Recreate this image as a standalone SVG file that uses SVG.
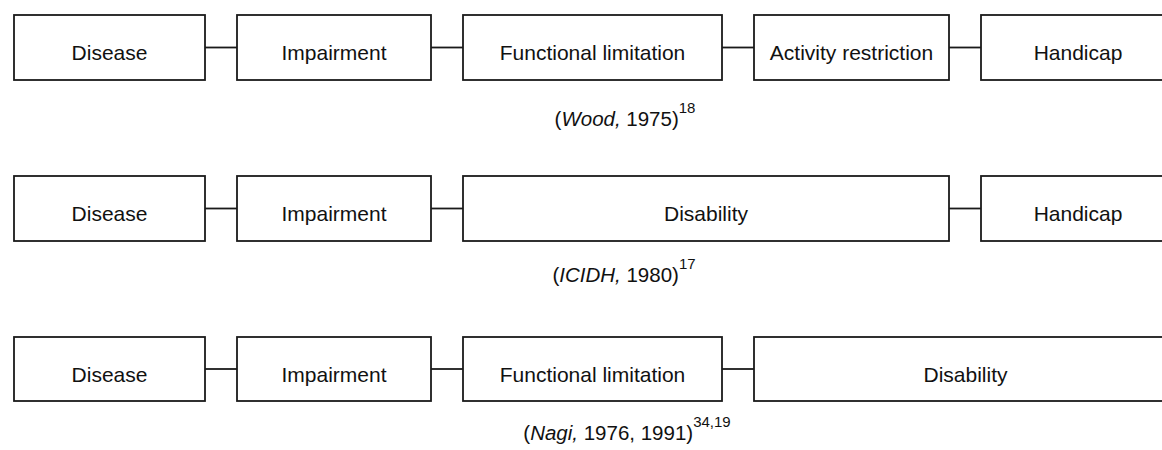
<svg xmlns="http://www.w3.org/2000/svg" width="1162" height="450" viewBox="0 0 1162 450">
<style>
.box{fill:#fff;stroke:#1a1a1a;stroke-width:1.8}
.lbl{font-family:"Liberation Sans",Arial,sans-serif;font-size:21px;fill:#111;text-anchor:middle}
.cap{font-family:"Liberation Sans",Arial,sans-serif;font-size:20.5px;fill:#111;text-anchor:middle}
.sup{font-size:15px}
.conn line{stroke:#1a1a1a;stroke-width:1.8}
</style>
<rect width="1162" height="450" fill="#fff"/>
<g class="conn" id="connectors">
<line x1="205" y1="47.5" x2="237" y2="47.5"/>
<line x1="431" y1="47.5" x2="463" y2="47.5"/>
<line x1="722" y1="47.5" x2="754" y2="47.5"/>
<line x1="949" y1="47.5" x2="981" y2="47.5"/>
<line x1="205" y1="208.5" x2="237" y2="208.5"/>
<line x1="431" y1="208.5" x2="463" y2="208.5"/>
<line x1="949" y1="208.5" x2="981" y2="208.5"/>
<line x1="205" y1="369" x2="237" y2="369"/>
<line x1="431" y1="369" x2="463" y2="369"/>
<line x1="722" y1="369" x2="754" y2="369"/>
</g>
<g id="r1-disease"><rect class="box" x="14" y="15" width="191" height="65"/><text class="lbl" x="109.5" y="60">Disease</text></g>
<g id="r1-impairment"><rect class="box" x="237" y="15" width="194" height="65"/><text class="lbl" x="334" y="60">Impairment</text></g>
<g id="r1-functional"><rect class="box" x="463" y="15" width="259" height="65"/><text class="lbl" x="592.5" y="60">Functional limitation</text></g>
<g id="r1-activity"><rect class="box" x="754" y="15" width="195" height="65"/><text class="lbl" x="851.5" y="60">Activity restriction</text></g>
<g id="r1-handicap"><rect class="box" x="981" y="15" width="195" height="65"/><text class="lbl" x="1078" y="60">Handicap</text></g>
<g id="r1-caption"><text class="cap" x="625" y="126">(<tspan font-style="italic">Wood,</tspan> 1975)<tspan class="sup" dy="-13">18</tspan></text></g>

<g id="r2-disease"><rect class="box" x="14" y="176" width="191" height="65"/><text class="lbl" x="109.5" y="221">Disease</text></g>
<g id="r2-impairment"><rect class="box" x="237" y="176" width="194" height="65"/><text class="lbl" x="334" y="221">Impairment</text></g>
<g id="r2-disability"><rect class="box" x="463" y="176" width="486" height="65"/><text class="lbl" x="706" y="221">Disability</text></g>
<g id="r2-handicap"><rect class="box" x="981" y="176" width="195" height="65"/><text class="lbl" x="1078" y="221">Handicap</text></g>
<g id="r2-caption"><text class="cap" x="624" y="282">(<tspan font-style="italic">ICIDH,</tspan> 1980)<tspan class="sup" dy="-13">17</tspan></text></g>

<g id="r3-disease"><rect class="box" x="14" y="337" width="191" height="64"/><text class="lbl" x="109.5" y="381.5">Disease</text></g>
<g id="r3-impairment"><rect class="box" x="237" y="337" width="194" height="64"/><text class="lbl" x="334" y="381.5">Impairment</text></g>
<g id="r3-functional"><rect class="box" x="463" y="337" width="259" height="64"/><text class="lbl" x="592.5" y="381.5">Functional limitation</text></g>
<g id="r3-disability"><rect class="box" x="754" y="337" width="423" height="64"/><text class="lbl" x="965.5" y="381.5">Disability</text></g>
<g id="r3-caption"><text class="cap" x="627" y="440">(<tspan font-style="italic">Nagi,</tspan> 1976, 1991)<tspan class="sup" dy="-13">34,19</tspan></text></g>
</svg>
